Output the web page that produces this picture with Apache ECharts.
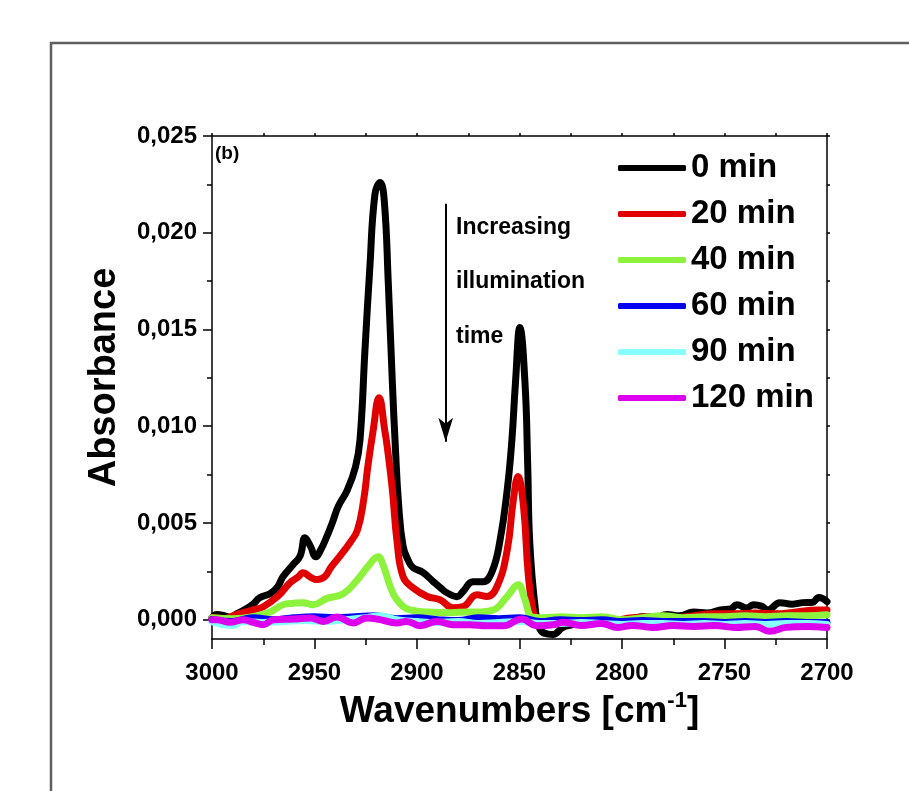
<!DOCTYPE html>
<html>
<head>
<meta charset="utf-8">
<script src="https://cdn.jsdelivr.net/npm/echarts@6/dist/echarts.min.js"></script>
<style>
  html, body { margin: 0; padding: 0; background: #ffffff; }
  #chart { width: 909px; height: 791px; }
</style>
</head>
<body>
<div id="chart"></div>
<script>
// IR absorbance spectra (C-H stretching region) after different illumination times

const seriesNames = ['0 min', '20 min', '40 min', '60 min', '90 min', '120 min'];
const seriesColors = ['#000000', '#e00000', '#8cf23c', '#0000f0', '#88ffff', '#dd00ee'];

// 0 min
const wn0 = [3000, 2997.6, 2994, 2991, 2988, 2985, 2980, 2976.6, 2971.7, 2968, 2965.4, 2960.5, 2957, 2954.6, 2952, 2949.3, 2947, 2944, 2941, 2938.5, 2934, 2930, 2927.8, 2925.4, 2923, 2920.5, 2918, 2916, 2914, 2912, 2910.5, 2909, 2906.8, 2904, 2902, 2897, 2892, 2888, 2885.4, 2880.5, 2877.6, 2872.7, 2867.8, 2863.4, 2859.5, 2856, 2853.7, 2852, 2849.8, 2847.3, 2846, 2845, 2842.4, 2840, 2836, 2833.7, 2828.8, 2824, 2819, 2814, 2808, 2802, 2796, 2790, 2784, 2778, 2772, 2765, 2758.5, 2752, 2747, 2744, 2739, 2736, 2732, 2728.8, 2723, 2717, 2711.7, 2707, 2704, 2700];
const abs0 = [0.0001, 0.00026, 0.0002, 0.00012, 0.0003, 0.00046, 0.0008, 0.00114, 0.00134, 0.0017, 0.00222, 0.00284, 0.0033, 0.00424, 0.0038, 0.00325, 0.0036, 0.00429, 0.0051, 0.00584, 0.0067, 0.0079, 0.0093, 0.0139, 0.0182, 0.0220, 0.0226, 0.0217, 0.0174, 0.0122, 0.0088, 0.0060, 0.0038, 0.0030, 0.0027, 0.00243, 0.00196, 0.0016, 0.00139, 0.00119, 0.00145, 0.00196, 0.00196, 0.00248, 0.0041, 0.0067, 0.0093, 0.0122, 0.0151, 0.0122, 0.0080, 0.0040, 0.00067, -0.0005, -0.00075, -0.00077, -0.0004, -0.00026, -0.0001, 0.0, 0.00005, -0.0001, 0.0, 0.00015, 0.0001, 0.00026, 0.0002, 0.0004, 0.00035, 0.0005, 0.00055, 0.00077, 0.0006, 0.00077, 0.0007, 0.0005, 0.00088, 0.0008, 0.00088, 0.0009, 0.00114, 0.00093];

// 20 min
const wn20 = [3000, 2997.6, 2994, 2991, 2985, 2980, 2975, 2968, 2962, 2958, 2955.6, 2952, 2948.8, 2945, 2942, 2939, 2932.7, 2929, 2926, 2924, 2921.5, 2918.5, 2915.6, 2914.6, 2912, 2909.8, 2906.8, 2902, 2895, 2888.8, 2882.4, 2877.6, 2870.7, 2865.9, 2861, 2856, 2853, 2850.7, 2848, 2845.8, 2843.4, 2841, 2835, 2825, 2815, 2805, 2795, 2785, 2775, 2765, 2755, 2745, 2735, 2725, 2715, 2705, 2700];
const abs20 = [0.0001, 0.0001, 0.0, 0.00015, 0.00036, 0.0005, 0.00067, 0.0012, 0.0019, 0.0022, 0.00243, 0.0022, 0.00207, 0.00222, 0.0027, 0.0031, 0.00398, 0.00465, 0.0062, 0.0079, 0.0097, 0.01147, 0.0097, 0.0090, 0.0067, 0.0041, 0.00222, 0.00165, 0.0012, 0.00103, 0.00062, 0.00067, 0.00129, 0.0012, 0.0017, 0.0036, 0.0062, 0.0074, 0.0058, 0.00243, 0.0005, 0.0, 0.00005, -0.00005, 0.0, -0.00005, 0.0001, 0.00015, 0.0001, 0.0002, 0.0003, 0.0003, 0.00035, 0.0003, 0.0004, 0.0005, 0.0005];

// 40 min
const wn40 = [3000, 2990, 2980, 2971.7, 2965.4, 2960, 2955.6, 2950.7, 2944, 2936, 2929, 2924, 2919, 2916.6, 2913, 2909.8, 2903.4, 2895, 2884, 2875, 2870.7, 2862.9, 2856, 2850.7, 2847.3, 2844, 2839, 2830, 2820, 2810, 2800, 2790, 2780, 2770, 2760, 2750, 2740, 2730, 2720, 2710, 2700];
const abs40 = [0.0001, 0.00005, 0.00015, 0.0004, 0.00077, 0.00085, 0.00088, 0.00077, 0.0011, 0.00134, 0.00207, 0.00274, 0.00325, 0.00284, 0.0017, 0.00103, 0.0005, 0.0004, 0.00036, 0.0004, 0.0004, 0.0005, 0.0012, 0.0018, 0.00103, 0.00015, 0.0001, 0.00015, 0.0001, 0.00015, 0.0, 0.0001, 0.0002, 0.0001, 0.00015, 0.00015, 0.0002, 0.00015, 0.0002, 0.0002, 0.00025];

// 60 min
const wn60 = [3000, 2990, 2980, 2970, 2960, 2950, 2940, 2930, 2920, 2910, 2900, 2890, 2880, 2870, 2860, 2850, 2840, 2830, 2820, 2810, 2800, 2790, 2780, 2770, 2760, 2750, 2740, 2730, 2720, 2710, 2700];
const abs60 = [0.0, -0.0001, 0.0001, 0.0, 0.0001, 0.00015, 0.0001, 0.00015, 0.0002, 0.00005, 0.0001, 0.0, -0.00005, 0.0001, 0.00005, 0.0001, -0.0001, 0.0, -0.00005, 0.0, -0.0001, -0.00005, -0.0001, -0.0001, -0.0001, -0.00015, -0.0001, -0.00015, -0.0001, -0.00015, -0.00015];

// 90 min
const wn90 = [3000, 2995, 2990, 2985, 2975, 2965, 2955, 2945, 2935, 2925, 2918, 2910, 2900, 2890, 2880, 2870, 2860, 2850, 2840, 2830, 2820, 2810, 2800, 2790, 2780, 2770, 2760, 2750, 2740, 2730, 2720, 2710, 2700];
const abs90 = [-0.0001, -0.00025, -0.0003, -0.0001, -0.00015, -0.0001, -0.00005, -0.0001, 0.0, 0.0001, 0.0002, 0.0, -0.0001, -0.00015, -0.0001, -0.0002, -0.00015, -0.0001, -0.0002, -0.0002, -0.00015, -0.0002, -0.00025, -0.0002, -0.0002, -0.00025, -0.0002, -0.00025, -0.0002, -0.00025, -0.0002, -0.0002, -0.00025];

// 120 min
const wn120 = [3000, 2997.7, 2991.2, 2984.7, 2979.8, 2975, 2970, 2960.3, 2952.2, 2945.7, 2939.2, 2931.1, 2924.5, 2918, 2909.9, 2905, 2898.5, 2890.4, 2882.3, 2874.1, 2866, 2857.9, 2849, 2841.6, 2833.5, 2828.6, 2820, 2810, 2802, 2795, 2785, 2775, 2765, 2755, 2745, 2735, 2728, 2720, 2710, 2700];
const abs120 = [0.0, 0.0, -0.00014, 0.0, -0.00014, -0.00026, 0.0, 0.00003, 0.00009, -0.00009, 0.00014, -0.00017, 0.00009, 0.0, -0.00017, -0.00009, -0.00031, -0.00009, -0.00026, -0.00026, -0.00031, -0.00031, 0.00003, -0.00031, -0.00026, -0.00014, -0.0003, -0.0002, -0.0004, -0.0003, -0.0004, -0.0003, -0.00035, -0.0003, -0.0004, -0.00035, -0.0006, -0.0004, -0.00035, -0.0004];

const xTicksMinor = 25;
const xTicksMajor = 50;
const yMajorTicks = [0, 0.005, 0.010, 0.015, 0.020, 0.025];
const yMinorTicks = [0.0025, 0.0075, 0.0125, 0.0175, 0.0225];
const yAllTicks = [0, 0.0025, 0.005, 0.0075, 0.010, 0.0125, 0.015, 0.0175, 0.020, 0.0225, 0.025];

// annotation arrow, in data units (wavenumber, absorbance)
const arrowFrom = [2886, 0.0215];
const arrowTo = [2886, 0.0092];

const wnSets = [wn0, wn20, wn40, wn60, wn90, wn120];
const absSets = [abs0, abs20, abs40, abs60, abs90, abs120];

const FONT = '"Liberation Sans", Arial, sans-serif';

const chart = echarts.init(document.getElementById('chart'), null, { renderer: 'canvas' });

const series = seriesNames.map((name, i) => {
  const s = {
    name: name,
    type: 'line',
    xAxisIndex: 0,
    yAxisIndex: 0,
    data: wnSets[i].map((w, k) => [w, absSets[i][k]]),
    showSymbol: false,
    symbol: 'none',
    smooth: 0.45,
    lineStyle: { color: seriesColors[i], width: 7, cap: 'round', join: 'round' },
    itemStyle: { color: seriesColors[i] },
    emphasis: { disabled: true },
    silent: true
  };
  if (i === 0) {
    s.markLine = {
      silent: true,
      symbol: ['none', 'arrow'],
      symbolSize: [11, 24],
      label: { show: false },
      lineStyle: { color: '#000', width: 2, type: 'solid' },
      emphasis: { disabled: true },
      data: [[{ coord: arrowFrom }, { coord: arrowTo }]]
    };
  }
  return s;
});

const axisLineStyle = { color: '#000', width: 1.5 };

const option = {
  animation: false,
  backgroundColor: '#ffffff',
  grid: { left: 212, right: 82, top: 136, bottom: 152, containLabel: false },
  legend: {
    orient: 'vertical',
    left: 613,
    top: 145,
    icon: 'roundRect',
    itemWidth: 68,
    itemHeight: 6,
    itemGap: 10,
    selectedMode: false,
    data: seriesNames,
    textStyle: { fontFamily: FONT, fontSize: 33, fontWeight: 'bold', color: '#000', lineHeight: 36 }
  },
  xAxis: [
    {
      type: 'value', position: 'bottom', min: 2700, max: 3000, interval: xTicksMajor, inverse: true,
      axisLine: { show: true, onZero: false, lineStyle: axisLineStyle },
      axisTick: { show: true, inside: false, length: 10, lineStyle: axisLineStyle },
      minorTick: { show: true, splitNumber: 2, length: 6, lineStyle: axisLineStyle },
      splitLine: { show: false },
      axisLabel: {
        fontFamily: FONT, fontSize: 24, fontWeight: 'bold', color: '#000', margin: 22,
        formatter: v => String(v)
      },
      name: '{a|Wavenumbers [cm}{s|-1}{a|]}',
      nameLocation: 'middle',
      nameGap: 38,
      nameTextStyle: {
        rich: {
          a: { fontFamily: FONT, fontSize: 37, fontWeight: 'bold', color: '#000', lineHeight: 44 },
          s: { fontFamily: FONT, fontSize: 22, fontWeight: 'bold', color: '#000', verticalAlign: 'top', lineHeight: 22 }
        }
      }
    },
    {
      type: 'value', position: 'top', min: 2700, max: 3000, interval: xTicksMinor, inverse: true,
      axisLine: { show: true, onZero: false, lineStyle: axisLineStyle },
      axisTick: { show: true, inside: false, length: 3, lineStyle: axisLineStyle },
      splitLine: { show: false },
      axisLabel: { show: false }
    }
  ],
  yAxis: [
    {
      type: 'value', position: 'left', offset: 0, min: -0.001, max: 0.025,
      axisLine: { show: true, onZero: false, lineStyle: axisLineStyle },
      axisTick: { show: true, inside: false, length: 9, customValues: yMajorTicks, lineStyle: axisLineStyle },
      splitLine: { show: false },
      axisLabel: {
        customValues: yMajorTicks,
        fontFamily: FONT, fontSize: 24, fontWeight: 'bold', color: '#000', margin: 15,
        formatter: v => v.toFixed(3).replace('.', ',')
      },
      name: 'Absorbance',
      nameLocation: 'middle',
      nameRotate: 90,
      nameGap: 88,
      nameTextStyle: { fontFamily: FONT, fontSize: 38, fontWeight: 'bold', color: '#000', padding: [0, 0, 0, 20] }
    },
    {
      type: 'value', position: 'left', offset: 0, min: -0.001, max: 0.025,
      axisLine: { show: false, onZero: false },
      axisTick: { show: true, inside: false, length: 5, customValues: yMinorTicks, lineStyle: axisLineStyle },
      splitLine: { show: false },
      axisLabel: { show: false }
    },
    {
      type: 'value', position: 'right', offset: 0, min: -0.001, max: 0.025,
      axisLine: { show: true, onZero: false, lineStyle: axisLineStyle },
      axisTick: { show: true, inside: false, length: 3, customValues: yAllTicks, lineStyle: axisLineStyle },
      splitLine: { show: false },
      axisLabel: { show: false }
    }
  ],
  graphic: [
    {
      type: 'rect', z: -10, silent: true,
      shape: { x: 51, y: 43, width: 900, height: 800 },
      style: { fill: 'none', stroke: '#5f5f5f', lineWidth: 2.5 }
    },
    {
      type: 'text', silent: true, x: 215, y: 154,
      style: { text: '(b)', font: 'bold 19px ' + FONT, fill: '#000', verticalAlign: 'middle' }
    },
    {
      type: 'text', silent: true, x: 456, y: 228,
      style: { text: 'Increasing', font: 'bold 23px ' + FONT, fill: '#000', verticalAlign: 'middle' }
    },
    {
      type: 'text', silent: true, x: 456, y: 282,
      style: { text: 'illumination', font: 'bold 23px ' + FONT, fill: '#000', verticalAlign: 'middle' }
    },
    {
      type: 'text', silent: true, x: 456, y: 337,
      style: { text: 'time', font: 'bold 23px ' + FONT, fill: '#000', verticalAlign: 'middle' }
    }
  ],
  series: series
};

chart.setOption(option);
</script>
</body>
</html>
